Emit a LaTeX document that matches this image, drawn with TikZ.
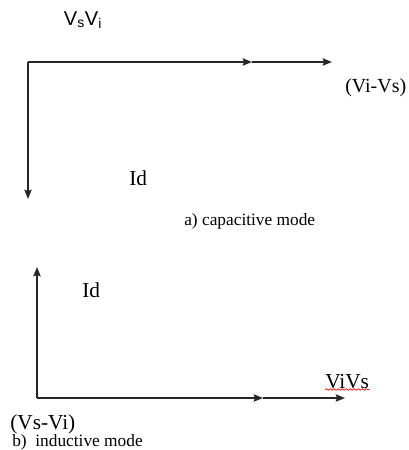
\documentclass[tikz,border=0pt]{standalone}
\usepackage{fontspec}
\setmainfont{Liberation Serif}
\newfontfamily\labelsans{Liberation Sans}
\usetikzlibrary{arrows.meta,decorations.pathmorphing}

\begin{document}
\begin{tikzpicture}[x=0.75pt,y=-0.75pt,
    vec/.style={-{Stealth[length=7pt,width=5.5pt,inset=1pt]}, line width=1.1pt, black!85},
    lbl/.style={font=\fontsize{16}{18}\selectfont, inner sep=0pt},
    caption/.style={font=\fontsize{13}{15}\selectfont, inner sep=0pt, anchor=west}]
  \useasboundingbox (0,0) rectangle (408,450);

  % a) capacitive mode
  \coordinate (o1) at (28,62);
  \coordinate (m1) at (252,62);
  \coordinate (e1) at (332,62);
  \coordinate (d1) at (28,199);
  \draw[vec] (o1) -- (m1);
  \draw[vec] (m1) -- (e1);
  \draw[vec] (o1) -- (d1);

  \node[inner sep=0pt, font=\labelsans\fontsize{15}{17}\selectfont] (vsvi) at (83,20) {V\textsubscript{s}V\textsubscript{i}};
  \node[lbl, anchor=west, font=\fontsize{15}{17}\selectfont] (vivs) at (345,88) {(Vi-Vs)};
  \node[lbl, anchor=west] (ida) at (129,178) {Id};
  \node[caption] (capa) at (184,221) {a) capacitive mode};

  % b) inductive mode
  \coordinate (o2) at (37,398);
  \coordinate (m2) at (263,398);
  \coordinate (e2) at (345,398);
  \coordinate (u2) at (37,267);
  \draw[vec] (o2) -- (m2);
  \draw[vec] (m2) -- (e2);
  \draw[vec] (o2) -- (u2);

  \node[lbl, anchor=west] (idb) at (82,290) {Id};
  \node[lbl, anchor=west] (vivs2) at (325,382) {ViVs};
  \draw[red, line width=0.5pt, decorate,
        decoration={snake, amplitude=0.6pt, segment length=3pt}]
    (vivs2.south west) -- (vivs2.south east);
  \node[lbl, anchor=west] (vsvi2) at (10,424) {(Vs-Vi)};
  \node[caption] (indu) at (12,442) {b)\ \ inductive mode};
\end{tikzpicture}
\end{document}
